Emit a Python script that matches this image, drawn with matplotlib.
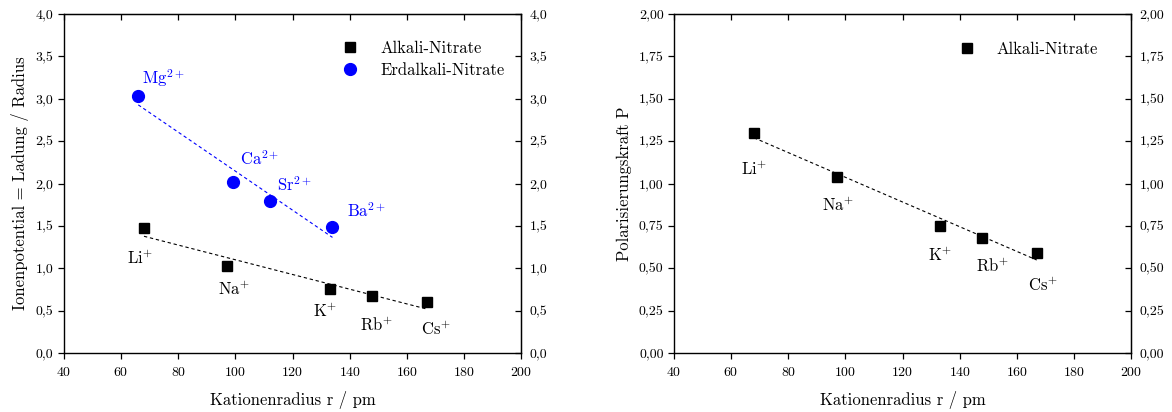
import numpy as np
import matplotlib
matplotlib.use("Agg")
import matplotlib.pyplot as plt
from matplotlib.ticker import FuncFormatter, MultipleLocator

plt.rcParams['font.family'] = ['cmr10']
plt.rcParams['mathtext.fontset'] = 'cm'
plt.rcParams['axes.formatter.use_mathtext'] = True
plt.rcParams['axes.unicode_minus'] = False

# Alkali nitrates
alk_ions = ['Li', 'Na', 'K', 'Rb', 'Cs']
alk_radius = [68, 97, 133, 148, 167]
alk_ionpot = [1.47, 1.03, 0.75, 0.67, 0.60]
alk_polar = [1.30, 1.04, 0.75, 0.68, 0.59]

# Earth alkali nitrates
ea_ions = ['Mg', 'Ca', 'Sr', 'Ba']
ea_radius = [66, 99, 112, 134]
ea_ionpot = [3.03, 2.02, 1.79, 1.49]

# label offsets in pixels (dx, dy)
alk_off_left = [(-4, -30), (7, -23), (-5, -22), (4, -29), (9, -27)]
ea_off_left = [(25, 18), (27, 23), (25, 17), (34, 16)]
alk_off_right = [(0, -36), (1, -28), (0, -29), (10, -28), (6, -32)]

W, H = 1172, 412
fig = plt.figure(figsize=(W / 100, H / 100), dpi=100)


def comma_fmt(nd):
    return FuncFormatter(lambda v, p: f"{v:.{nd}f}".replace('.', ','))


def setup(ax, ymax, ystep, nd):
    ax.set_xlim(40, 200)
    ax.set_ylim(0, ymax)
    ax.xaxis.set_major_locator(MultipleLocator(20))
    ax.yaxis.set_major_locator(MultipleLocator(ystep))
    ax.yaxis.set_major_formatter(comma_fmt(nd))
    ax.tick_params(direction='out', length=4.5, width=0.9, labelsize=10)
    ax.tick_params(axis='x', pad=4.5)
    ax.tick_params(axis='y', pad=3)
    for s in ax.spines.values():
        s.set_linewidth(1.0)
    sec = ax.secondary_yaxis('right')
    sec.yaxis.set_major_locator(MultipleLocator(ystep))
    sec.yaxis.set_major_formatter(comma_fmt(nd))
    sec.tick_params(direction='in', length=4.5, width=0.9, labelsize=10, pad=6)
    top = ax.secondary_xaxis('top')
    top.xaxis.set_major_locator(MultipleLocator(20))
    top.tick_params(direction='in', length=4.5, width=0.9, labelbottom=False, labeltop=False)
    ax.set_xlabel('Kationenradius r / pm', fontsize=12, labelpad=9)


def fit_line(ax, x, y, color):
    k, d = np.polyfit(x, y, 1)
    xs = np.array([min(x), max(x)])
    ax.plot(xs, k * xs + d, ls=(0, (3, 2.5)), lw=0.8, color=color)


# ---- left panel
ax1 = fig.add_axes([64 / W, 1 - 353 / H, 457 / W, 339 / H])
setup(ax1, 4.0, 0.5, 1)
ax1.set_ylabel('Ionenpotential = Ladung / Radius', fontsize=12, labelpad=5)
fit_line(ax1, alk_radius, alk_ionpot, 'black')
fit_line(ax1, ea_radius, ea_ionpot, 'blue')
ax1.plot(alk_radius, alk_ionpot, 's', ms=7.5, color='black', label='Alkali-Nitrate')
ax1.plot(ea_radius, ea_ionpot, 'o', ms=8.5, color='blue', label='Erdalkali-Nitrate')
for name, x, y, off in zip(alk_ions, alk_radius, alk_ionpot, alk_off_left):
    ax1.annotate(r'$\mathrm{%s}^{+}$' % name, (x, y), xytext=off, textcoords='offset pixels',
                 ha='center', va='center', fontsize=12)
for name, x, y, off in zip(ea_ions, ea_radius, ea_ionpot, ea_off_left):
    ax1.annotate(r'$\mathrm{%s}^{2+}$' % name, (x, y), xytext=off, textcoords='offset pixels',
                 ha='center', va='center', fontsize=12, color='blue')
ax1.legend(loc='upper right', bbox_to_anchor=(1.0, 1 - 10 / 339), frameon=False, fontsize=12,
           handletextpad=1.2, borderaxespad=0.6, labelspacing=0.4, handlelength=1.2)

# ---- right panel
ax2 = fig.add_axes([674 / W, 1 - 353 / H, 457 / W, 339 / H])
setup(ax2, 2.0, 0.25, 2)
ax2.set_ylabel('Polarisierungskraft P', fontsize=12, labelpad=5)
fit_line(ax2, alk_radius, alk_polar, 'black')
ax2.plot(alk_radius, alk_polar, 's', ms=7.5, color='black', label='Alkali-Nitrate')
for name, x, y, off in zip(alk_ions, alk_radius, alk_polar, alk_off_right):
    ax2.annotate(r'$\mathrm{%s}^{+}$' % name, (x, y), xytext=off, textcoords='offset pixels',
                 ha='center', va='center', fontsize=12)
ax2.legend(loc='upper right', bbox_to_anchor=(1 - 16 / 457, 1 - 11 / 339), frameon=False,
           fontsize=12, handletextpad=1.2, borderaxespad=0.6, handlelength=1.2)

fig.savefig('out.png', dpi=100)
